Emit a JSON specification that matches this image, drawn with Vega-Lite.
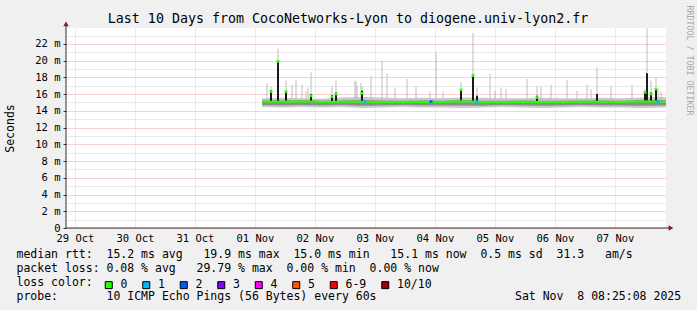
{
  "$schema": "https://vega.github.io/schema/vega-lite/v6.json",
  "width": 600,
  "height": 200,
  "autosize": {"type": "none"},
  "padding": {"left": 66, "top": 28, "right": 31, "bottom": 82},
  "background": "#f0f0f0",
  "config": {"view": {"fill": "#ffffff", "stroke": null}, "font": "DejaVu Sans Mono"},
  "title": {"text": "Last 10 Days from CocoNetworks-Lyon to diogene.univ-lyon2.fr", "font": "DejaVu Sans Mono", "fontSize": 13.3, "fontWeight": "normal", "color": "#000000", "anchor": "middle", "frame": "group", "dx": -18, "dy": 35, "baseline": "alphabetic", "offset": 4},
  "datasets": {
    "band": [
      {"t": 1762008548000, "lo": 14.45, "hi": 15.5, "lo2": 14.7, "hi2": 15.25, "med": 15.1},
      {"t": 1762037348000, "lo": 14.4, "hi": 15.55, "lo2": 14.65, "hi2": 15.25, "med": 15.1},
      {"t": 1762066148000, "lo": 14.45, "hi": 15.5, "lo2": 14.7, "hi2": 15.3, "med": 15.15},
      {"t": 1762094948000, "lo": 14.4, "hi": 15.45, "lo2": 14.65, "hi2": 15.2, "med": 15.05},
      {"t": 1762123748000, "lo": 14.45, "hi": 15.6, "lo2": 14.7, "hi2": 15.25, "med": 15.1},
      {"t": 1762152548000, "lo": 14.35, "hi": 15.65, "lo2": 14.6, "hi2": 15.3, "med": 15.1},
      {"t": 1762181348000, "lo": 14.4, "hi": 15.6, "lo2": 14.65, "hi2": 15.25, "med": 15.05},
      {"t": 1762210148000, "lo": 14.45, "hi": 15.5, "lo2": 14.7, "hi2": 15.2, "med": 15.05},
      {"t": 1762238948000, "lo": 14.4, "hi": 15.55, "lo2": 14.65, "hi2": 15.25, "med": 15.1},
      {"t": 1762267748000, "lo": 14.4, "hi": 15.5, "lo2": 14.65, "hi2": 15.2, "med": 15.05},
      {"t": 1762296548000, "lo": 14.35, "hi": 15.6, "lo2": 14.65, "hi2": 15.3, "med": 15.15},
      {"t": 1762325348000, "lo": 14.4, "hi": 15.55, "lo2": 14.6, "hi2": 15.2, "med": 15.05},
      {"t": 1762354148000, "lo": 14.45, "hi": 15.5, "lo2": 14.7, "hi2": 15.2, "med": 15.05},
      {"t": 1762382948000, "lo": 14.4, "hi": 15.5, "lo2": 14.65, "hi2": 15.25, "med": 15.1},
      {"t": 1762411748000, "lo": 14.35, "hi": 15.55, "lo2": 14.6, "hi2": 15.2, "med": 15.05},
      {"t": 1762440548000, "lo": 14.4, "hi": 15.5, "lo2": 14.65, "hi2": 15.2, "med": 15.05},
      {"t": 1762469348000, "lo": 14.45, "hi": 15.5, "lo2": 14.7, "hi2": 15.25, "med": 15.1},
      {"t": 1762498148000, "lo": 14.4, "hi": 15.55, "lo2": 14.65, "hi2": 15.25, "med": 15.1},
      {"t": 1762526948000, "lo": 14.4, "hi": 15.5, "lo2": 14.65, "hi2": 15.2, "med": 15.05},
      {"t": 1762555748000, "lo": 14.35, "hi": 15.6, "lo2": 14.6, "hi2": 15.3, "med": 15.15},
      {"t": 1762584548000, "lo": 14.4, "hi": 15.65, "lo2": 14.65, "hi2": 15.3, "med": 15.1},
      {"t": 1762590308000, "lo": 14.4, "hi": 15.6, "lo2": 14.65, "hi2": 15.25, "med": 15.1}
    ],
    "gray": [
      {"t": 1762015748000, "g": 17.3},
      {"t": 1762021508000, "g": 16.9},
      {"t": 1762031588000, "g": 21.4},
      {"t": 1762043108000, "g": 17.6},
      {"t": 1762051748000, "g": 17.1},
      {"t": 1762057508000, "g": 17.7},
      {"t": 1762066148000, "g": 17.1},
      {"t": 1762071908000, "g": 16.3},
      {"t": 1762074788000, "g": 16.8},
      {"t": 1762079108000, "g": 18.6},
      {"t": 1762109348000, "g": 16.9},
      {"t": 1762115108000, "g": 17.6},
      {"t": 1762142468000, "g": 17.6},
      {"t": 1762143908000, "g": 17.5},
      {"t": 1762145348000, "g": 17.0},
      {"t": 1762151108000, "g": 17.3},
      {"t": 1762152548000, "g": 16.9},
      {"t": 1762165508000, "g": 18.2},
      {"t": 1762181348000, "g": 20.0},
      {"t": 1762188548000, "g": 18.5},
      {"t": 1762200068000, "g": 16.8},
      {"t": 1762217348000, "g": 17.8},
      {"t": 1762230308000, "g": 16.9},
      {"t": 1762250468000, "g": 16.3},
      {"t": 1762259108000, "g": 21.0},
      {"t": 1762269188000, "g": 16.3},
      {"t": 1762295108000, "g": 17.4},
      {"t": 1762312388000, "g": 23.3},
      {"t": 1762318148000, "g": 16.8},
      {"t": 1762336868000, "g": 18.4},
      {"t": 1762344068000, "g": 16.4},
      {"t": 1762352708000, "g": 16.8},
      {"t": 1762359908000, "g": 16.6},
      {"t": 1762390148000, "g": 17.8},
      {"t": 1762404548000, "g": 16.9},
      {"t": 1762410308000, "g": 16.9},
      {"t": 1762424708000, "g": 17.1},
      {"t": 1762447748000, "g": 17.7},
      {"t": 1762462148000, "g": 16.4},
      {"t": 1762476548000, "g": 17.1},
      {"t": 1762482308000, "g": 16.6},
      {"t": 1762490948000, "g": 19.2},
      {"t": 1762511108000, "g": 16.9},
      {"t": 1762541348000, "g": 17.1},
      {"t": 1762560068000, "g": 16.6},
      {"t": 1762562948000, "g": 23.85},
      {"t": 1762568708000, "g": 17.6},
      {"t": 1762575908000, "g": 18.0},
      {"t": 1762578788000, "g": 16.6},
      {"t": 1762583108000, "g": 16.3}
    ],
    "dark": [
      {"t": 1762021508000, "k": 16.45},
      {"t": 1762031588000, "k": 20.0},
      {"t": 1762043108000, "k": 16.3},
      {"t": 1762079108000, "k": 16.0},
      {"t": 1762109348000, "k": 15.9},
      {"t": 1762115108000, "k": 16.2},
      {"t": 1762152548000, "k": 16.4},
      {"t": 1762295108000, "k": 16.6},
      {"t": 1762312388000, "k": 18.3},
      {"t": 1762318148000, "k": 15.8},
      {"t": 1762404548000, "k": 15.8},
      {"t": 1762490948000, "k": 16.0},
      {"t": 1762560068000, "k": 16.3},
      {"t": 1762562948000, "k": 18.5},
      {"t": 1762568708000, "k": 16.2},
      {"t": 1762575908000, "k": 16.7}
    ],
    "mseg": [
      {"t": 1762021508000, "m": 16.3, "loss": "0"},
      {"t": 1762031588000, "m": 19.9, "loss": "0"},
      {"t": 1762043108000, "m": 16.3, "loss": "0"},
      {"t": 1762079108000, "m": 15.8, "loss": "0"},
      {"t": 1762109348000, "m": 15.7, "loss": "0"},
      {"t": 1762115108000, "m": 16.0, "loss": "0"},
      {"t": 1762152548000, "m": 16.1, "loss": "0"},
      {"t": 1762156868000, "m": 15.1, "loss": "1"},
      {"t": 1762251908000, "m": 15.1, "loss": "2"},
      {"t": 1762295108000, "m": 16.5, "loss": "0"},
      {"t": 1762312388000, "m": 18.2, "loss": "0"},
      {"t": 1762318148000, "m": 15.1, "loss": "1"},
      {"t": 1762404548000, "m": 15.6, "loss": "0"},
      {"t": 1762560068000, "m": 16.2, "loss": "0"},
      {"t": 1762568708000, "m": 16.0, "loss": "0"},
      {"t": 1762575908000, "m": 16.6, "loss": "0"},
      {"t": 1762578788000, "m": 15.1, "loss": "1"}
    ],
    "one": [{"x0": 1761726308000, "x1": 1762594628000, "xa": 1762597508000, "y0": 0, "y1": 24.2, "ya": 24.4}]
  },
  "resolve": {"axis": {"y": "independent"}},
  "layer": [
    {
      "data": {"name": "band"},
      "mark": {"type": "area", "color": "#c8c8c8", "opacity": 1},
      "encoding": {
        "x": {
          "field": "t", "type": "temporal",
          "scale": {"type": "utc", "domain": [1761726308000, 1762590308000], "nice": false},
          "axis": {
            "values": [1761739200000, 1761760800000, 1761782400000, 1761804000000, 1761825600000, 1761847200000, 1761868800000, 1761890400000, 1761912000000, 1761933600000, 1761955200000, 1761976800000, 1761998400000, 1762020000000, 1762041600000, 1762063200000, 1762084800000, 1762106400000, 1762128000000, 1762149600000, 1762171200000, 1762192800000, 1762214400000, 1762236000000, 1762257600000, 1762279200000, 1762300800000, 1762322400000, 1762344000000, 1762365600000, 1762387200000, 1762408800000, 1762430400000, 1762452000000, 1762473600000, 1762495200000, 1762516800000, 1762538400000, 1762560000000, 1762581600000],
            "labelExpr": "utchours(datum.value) === 12 ? utcFormat(datum.value, '%d %b') : ''",
            "grid": true,
            "gridColor": {"condition": {"test": "utchours(datum.value) === 0", "value": "#f4a0a0"}, "value": "#d4d4d4"},
            "gridDash": [1, 1],
            "domain": false,
            "tickSize": 3,
            "tickColor": {"condition": {"test": "utchours(datum.value) === 0", "value": "#e06060"}, "value": "transparent"},
            "labelPadding": 2,
            "labelFont": "DejaVu Sans Mono",
            "labelFontSize": 10.5,
            "labelColor": "#000000",
            "labelOverlap": false,
            "labelFlush": false,
            "labelBound": false,
            "title": [
              "median rtt:\u00a0\u00a015.2 ms avg\u00a0\u00a0\u00a019.9 ms max\u00a0\u00a015.0 ms min\u00a0\u00a0\u00a015.1 ms now\u00a0\u00a00.5 ms sd\u00a0\u00a031.3\u00a0\u00a0\u00a0am/s",
              "packet loss: 0.08 % avg\u00a0\u00a0\u00a029.79 % max\u00a0\u00a00.00 % min\u00a0\u00a00.00 % now",
              "loss color:",
              "probe:\u00a0\u00a0\u00a0\u00a0\u00a0\u00a0\u00a010 ICMP Echo Pings (56 Bytes) every 60s\u00a0\u00a0\u00a0\u00a0\u00a0\u00a0\u00a0\u00a0\u00a0\u00a0\u00a0\u00a0\u00a0\u00a0\u00a0\u00a0\u00a0\u00a0\u00a0\u00a0Sat Nov\u00a0\u00a08 08:25:08 2025"
            ],
            "titleFont": "DejaVu Sans Mono",
            "titleFontSize": 11.5,
            "titleFontWeight": "normal",
            "titleColor": "#000000",
            "titleAnchor": "start",
            "titleAlign": "left",
            "titleBaseline": "top",
            "titleX": -50,
            "titleY": 20,
            "titleLineHeight": 14
          }
        },
        "y": {
          "field": "lo", "type": "quantitative",
          "scale": {"domain": [0, 23.9], "nice": false, "zero": false},
          "axis": {
            "values": [0, 1, 2, 3, 4, 5, 6, 7, 8, 9, 10, 11, 12, 13, 14, 15, 16, 17, 18, 19, 20, 21, 22, 23],
            "labelExpr": "datum.value === 0 ? '0' : (datum.value % 2 === 0 ? datum.value + ' m' : '')",
            "grid": true,
            "gridColor": {"condition": {"test": "datum.value % 2 === 0", "value": "#f4a0a0"}, "value": "#d4d4d4"},
            "gridDash": [1, 1],
            "domain": false,
            "tickSize": 3,
            "tickColor": {"condition": {"test": "datum.value % 2 === 0", "value": "#333333"}, "value": "transparent"},
            "labelPadding": 3,
            "labelFont": "DejaVu Sans Mono",
            "labelFontSize": 10.5,
            "labelColor": "#000000",
            "labelOverlap": false,
            "labelFlush": false,
            "labelBound": false,
            "title": "Seconds",
            "titleFont": "DejaVu Sans Mono",
            "titleFontSize": 11.5,
            "titleFontWeight": "normal",
            "titleColor": "#000000",
            "titleAngle": 270,
            "titleAlign": "center",
            "titleBaseline": "middle",
            "titleX": -56,
            "titleY": 100
          }
        },
        "y2": {"field": "hi"}
      }
    },
    {
      "data": {"name": "band"},
      "mark": {"type": "area", "color": "#8c8c8c", "opacity": 1},
      "encoding": {
        "x": {"field": "t", "type": "temporal"},
        "y": {
          "field": "lo2", "type": "quantitative",
          "axis": {
            "orient": "right", "labels": false, "ticks": false, "domain": false, "grid": false,
            "title": "RRDTOOL / TOBI OETIKER",
            "titleFont": "DejaVu Sans Mono", "titleFontSize": 8.3, "titleFontWeight": "normal",
            "titleColor": "#a8a8a8", "titleAngle": 90, "titleAlign": "left", "titleBaseline": "middle",
            "titleX": 22, "titleY": -23
          }
        },
        "y2": {"field": "hi2"}
      }
    },
    {
      "data": {"name": "gray"},
      "mark": {"type": "rule", "color": "#bdbdbd", "strokeWidth": 1},
      "encoding": {
        "x": {"field": "t", "type": "temporal"},
        "y": {"field": "g", "type": "quantitative", "axis": null},
        "y2": {"datum": 15.4}
      }
    },
    {
      "data": {"name": "dark"},
      "mark": {"type": "rule", "color": "#1a1a1a", "strokeWidth": 2},
      "encoding": {
        "x": {"field": "t", "type": "temporal"},
        "y": {"field": "k", "type": "quantitative", "axis": null},
        "y2": {"datum": 15.1}
      }
    },
    {
      "data": {"name": "band"},
      "mark": {"type": "line", "color": "#26ff00", "strokeWidth": 2},
      "encoding": {
        "x": {"field": "t", "type": "temporal"},
        "y": {"field": "med", "type": "quantitative", "axis": null}
      }
    },
    {
      "data": {"name": "mseg"},
      "mark": {"type": "tick", "orient": "horizontal", "thickness": 2.5, "size": 3, "opacity": 1},
      "encoding": {
        "x": {"field": "t", "type": "temporal"},
        "y": {"field": "m", "type": "quantitative", "axis": null},
        "color": {
          "field": "loss", "type": "nominal",
          "scale": {"domain": ["0", "1", "2", "3", "4", "5", "6-9", "10/10"], "range": ["#26ff00", "#00b8ff", "#0059ff", "#7e00ff", "#ff00ff", "#ff5500", "#ff0000", "#a10000"]},
          "legend": {
            "orient": "none", "legendX": 37, "legendY": 251, "direction": "horizontal", "columns": 8,
            "title": null, "symbolType": "square", "symbolSize": 49, "symbolStrokeColor": "#000000",
            "symbolStrokeWidth": 1, "symbolOpacity": 1, "labelFont": "DejaVu Sans Mono", "labelFontSize": 11.5,
            "labelColor": "#000000", "labelOffset": 6, "columnPadding": 12.5, "padding": 0, "offset": 0
          }
        }
      }
    },
    {
      "data": {"name": "one"},
      "mark": {"type": "rule", "color": "#333333", "strokeWidth": 1, "clip": false},
      "encoding": {
        "x": {"field": "x0", "type": "temporal"},
        "y": {"field": "y0", "type": "quantitative", "axis": null},
        "y2": {"field": "y1"}
      }
    },
    {
      "data": {"name": "one"},
      "mark": {"type": "rule", "color": "#333333", "strokeWidth": 1, "clip": false},
      "encoding": {
        "x": {"field": "x0", "type": "temporal"},
        "x2": {"field": "x1"},
        "y": {"field": "y0", "type": "quantitative", "axis": null}
      }
    },
    {
      "data": {"name": "one"},
      "mark": {"type": "point", "shape": "triangle-up", "filled": true, "size": 30, "color": "#8b1a1a", "opacity": 1, "clip": false},
      "encoding": {
        "x": {"field": "x0", "type": "temporal"},
        "y": {"field": "ya", "type": "quantitative", "axis": null}
      }
    },
    {
      "data": {"name": "one"},
      "mark": {"type": "point", "shape": "triangle-right", "filled": true, "size": 30, "color": "#8b1a1a", "opacity": 1, "clip": false},
      "encoding": {
        "x": {"field": "xa", "type": "temporal"},
        "y": {"field": "y0", "type": "quantitative", "axis": null}
      }
    }
  ]
}
